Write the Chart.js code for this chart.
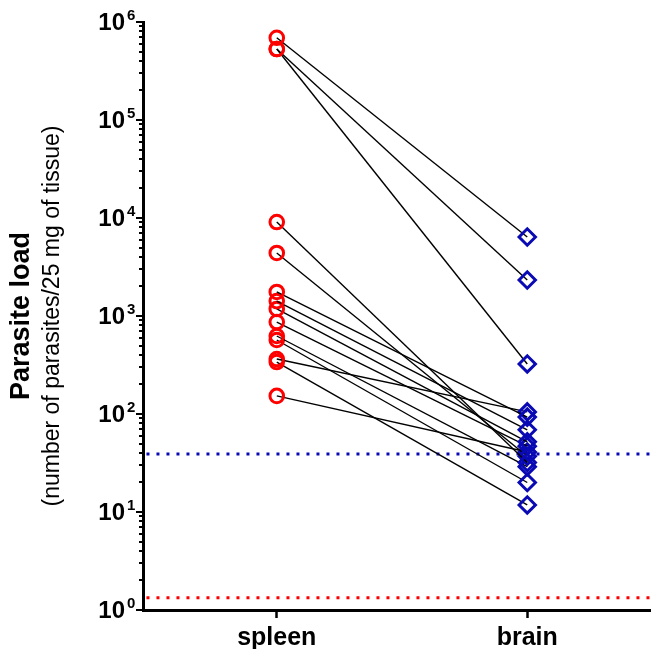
<!DOCTYPE html>
<html><head><meta charset="utf-8">
<script src="https://cdn.jsdelivr.net/npm/chart.js@4/dist/chart.umd.min.js"></script>
<style>html,body{margin:0;padding:0;background:#fff}canvas{display:block}</style>
</head><body>
<canvas id="c" width="651" height="649"></canvas>
<script>
const categories = ['spleen', 'brain'];
const spleen = [690000, 530000, 530000, 9100, 4400, 1760, 1420, 1180, 868, 625, 569, 364, 339, 153];
const brain  = [6400, 2330, 324, 32, 37, 93, 69, 52, 47, 29, 20, 105, 11.8, 41];
const brainCutoff = 39;
const spleenCutoff = 1.33;
const yTickExponents = [0, 1, 2, 3, 4, 5, 6];
const yTitle = 'Parasite load';
const ySubtitle = '(number of parasites/25 mg of tissue)';

const FONT = "'Liberation Sans', Arial, Helvetica, sans-serif";
const RED = '#ff0000';
const BLUE = '#0a0ab4';

const datasets = [];
spleen.forEach((s, i) => {
  datasets.push({
    data: [{x: 0, y: s}, {x: 1, y: brain[i]}],
    borderColor: '#000', borderWidth: 1.4,
    pointStyle: ['circle', 'rectRot'],
    pointRadius: [6.8, 8.2],
    pointBorderColor: [RED, BLUE],
    pointBorderWidth: 3,
    pointBackgroundColor: 'rgba(0,0,0,0)',
    clip: false, order: 0
  });
});
datasets.push({
  data: [{x: -0.6, y: brainCutoff}, {x: 1.6, y: brainCutoff}],
  borderColor: BLUE, borderWidth: 3, borderDash: [3, 7], borderCapStyle: 'butt',
  pointRadius: 0, order: 10
});
datasets.push({
  data: [{x: -0.6, y: spleenCutoff}, {x: 1.6, y: spleenCutoff}],
  borderColor: RED, borderWidth: 3, borderDash: [3, 7], borderCapStyle: 'butt',
  pointRadius: 0, order: 10
});

const axisPlugin = {
  id: 'axisDecor',
  afterDraw(chart) {
    const ctx = chart.ctx;
    const y = chart.scales.y;
    const left = chart.chartArea.left;
    ctx.save();
    ctx.strokeStyle = '#000';
    ctx.lineWidth = 2;
    for (let e = 0; e < 6; e++) {
      for (let m = 1; m <= 9; m++) {
        const py = Math.round(y.getPixelForValue(m * Math.pow(10, e)));
        const len = m === 1 ? 7 : 4;
        ctx.beginPath(); ctx.moveTo(left - len, py); ctx.lineTo(left, py); ctx.stroke();
      }
    }
    const pTop = Math.round(y.getPixelForValue(1e6));
    ctx.beginPath(); ctx.moveTo(left - 7, pTop); ctx.lineTo(left, pTop); ctx.stroke();

    ctx.fillStyle = '#000';
    yTickExponents.forEach(e => {
      const py = y.getPixelForValue(Math.pow(10, e));
      ctx.font = 'bold 24px ' + FONT;
      ctx.textAlign = 'right'; ctx.textBaseline = 'middle';
      ctx.fillText('10', left - 18, py + 1);
      ctx.font = 'bold 15px ' + FONT;
      ctx.textAlign = 'left';
      ctx.fillText(String(e), left - 16, py - 6);
    });

    const cy = (chart.chartArea.top + chart.chartArea.bottom) / 2;
    ctx.save();
    ctx.translate(22, cy); ctx.rotate(-Math.PI / 2);
    ctx.textAlign = 'center'; ctx.textBaseline = 'middle';
    ctx.font = 'bold 27px ' + FONT;
    ctx.fillText(yTitle, 0, 0);
    ctx.restore();
    ctx.save();
    ctx.translate(53, cy); ctx.rotate(-Math.PI / 2);
    ctx.textAlign = 'center'; ctx.textBaseline = 'middle';
    ctx.font = '23px ' + FONT;
    ctx.fillText(ySubtitle, 0, 0);
    ctx.restore();
    ctx.restore();
  }
};

new Chart(document.getElementById('c'), {
  type: 'line',
  data: {datasets},
  options: {
    responsive: false, animation: false, devicePixelRatio: 1,
    layout: {autoPadding: false, padding: {top: 22, left: 0, right: 0, bottom: 0}},
    plugins: {legend: {display: false}, tooltip: {enabled: false}},
    scales: {
      x: {
        type: 'linear', min: -0.534, max: 1.494,
        afterBuildTicks: s => { s.ticks = categories.map((c, i) => ({value: i})); },
        afterFit: s => { s.height = 39; },
        ticks: {
          callback: v => categories[v],
          font: {family: FONT, size: 25, weight: 'bold'}, color: '#000', padding: 5
        },
        grid: {display: true, drawOnChartArea: false, drawTicks: true, tickLength: 8, tickWidth: 2.5, color: '#000'},
        border: {display: true, width: 3, color: '#000'}
      },
      y: {
        type: 'logarithmic', min: 1, max: 1e6,
        afterFit: s => { s.width = 143; },
        ticks: {display: false},
        grid: {display: false},
        border: {display: true, width: 3, color: '#000'}
      }
    }
  },
  plugins: [axisPlugin]
});
</script>
</body></html>
